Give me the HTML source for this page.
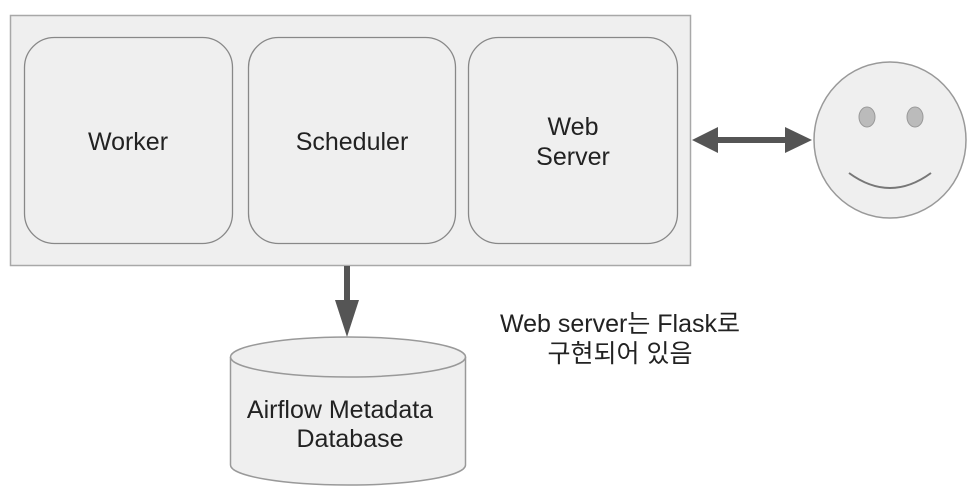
<!DOCTYPE html>
<html><head><meta charset="utf-8"><style>
body{margin:0;background:#fff;width:971px;height:491px;overflow:hidden}
text{font-family:"Liberation Sans","Noto Sans CJK KR",sans-serif;font-size:25px;fill:#222}
</style></head><body>
<svg width="971" height="491" viewBox="0 0 971 491" xmlns="http://www.w3.org/2000/svg">
<rect x="10.5" y="15.5" width="680" height="250" fill="#efefef" stroke="#a8a8a8" stroke-width="1.5"/>
<rect x="24.5" y="37.5" width="208" height="206" rx="30" fill="#efefef" stroke="#888" stroke-width="1.3"/>
<rect x="248.5" y="37.5" width="207" height="206" rx="30" fill="#efefef" stroke="#888" stroke-width="1.3"/>
<rect x="468.5" y="37.5" width="209" height="206" rx="30" fill="#efefef" stroke="#888" stroke-width="1.3"/>
<text x="128" y="150" text-anchor="middle">Worker</text>
<text x="352" y="150" text-anchor="middle">Scheduler</text>
<text x="573" y="135" text-anchor="middle">Web</text>
<text x="573" y="165" text-anchor="middle">Server</text>
<rect x="715" y="137" width="72" height="6" fill="#555"/>
<polygon points="692,140 718,127 718,153" fill="#555"/>
<polygon points="812,140 785,127 785,153" fill="#555"/>
<ellipse cx="890" cy="140" rx="76" ry="78" fill="#efefef" stroke="#999" stroke-width="1.5"/>
<ellipse cx="867" cy="117" rx="8" ry="10" fill="#bbb" stroke="#999"/>
<ellipse cx="915" cy="117" rx="8" ry="10" fill="#bbb" stroke="#999"/>
<path d="M849,173 Q890,203 931,173" fill="none" stroke="#777" stroke-width="2"/>
<rect x="344" y="266" width="6" height="38" fill="#555"/>
<polygon points="335,300 359,300 347,337" fill="#555"/>
<path d="M230.5,357 L230.5,465 A117.5,20 0 0 0 465.5,465 L465.5,357" fill="#efefef" stroke="#999" stroke-width="1.5"/>
<ellipse cx="348" cy="357" rx="117.5" ry="20" fill="#efefef" stroke="#999" stroke-width="1.5"/>
<text x="340" y="418" text-anchor="middle">Airflow Metadata</text>
<text x="350" y="447" text-anchor="middle">Database</text>
<text x="620" y="332" text-anchor="middle">Web server는 Flask로</text>
<text x="620" y="362" text-anchor="middle">구현되어 있음</text>
</svg>
</body></html>
